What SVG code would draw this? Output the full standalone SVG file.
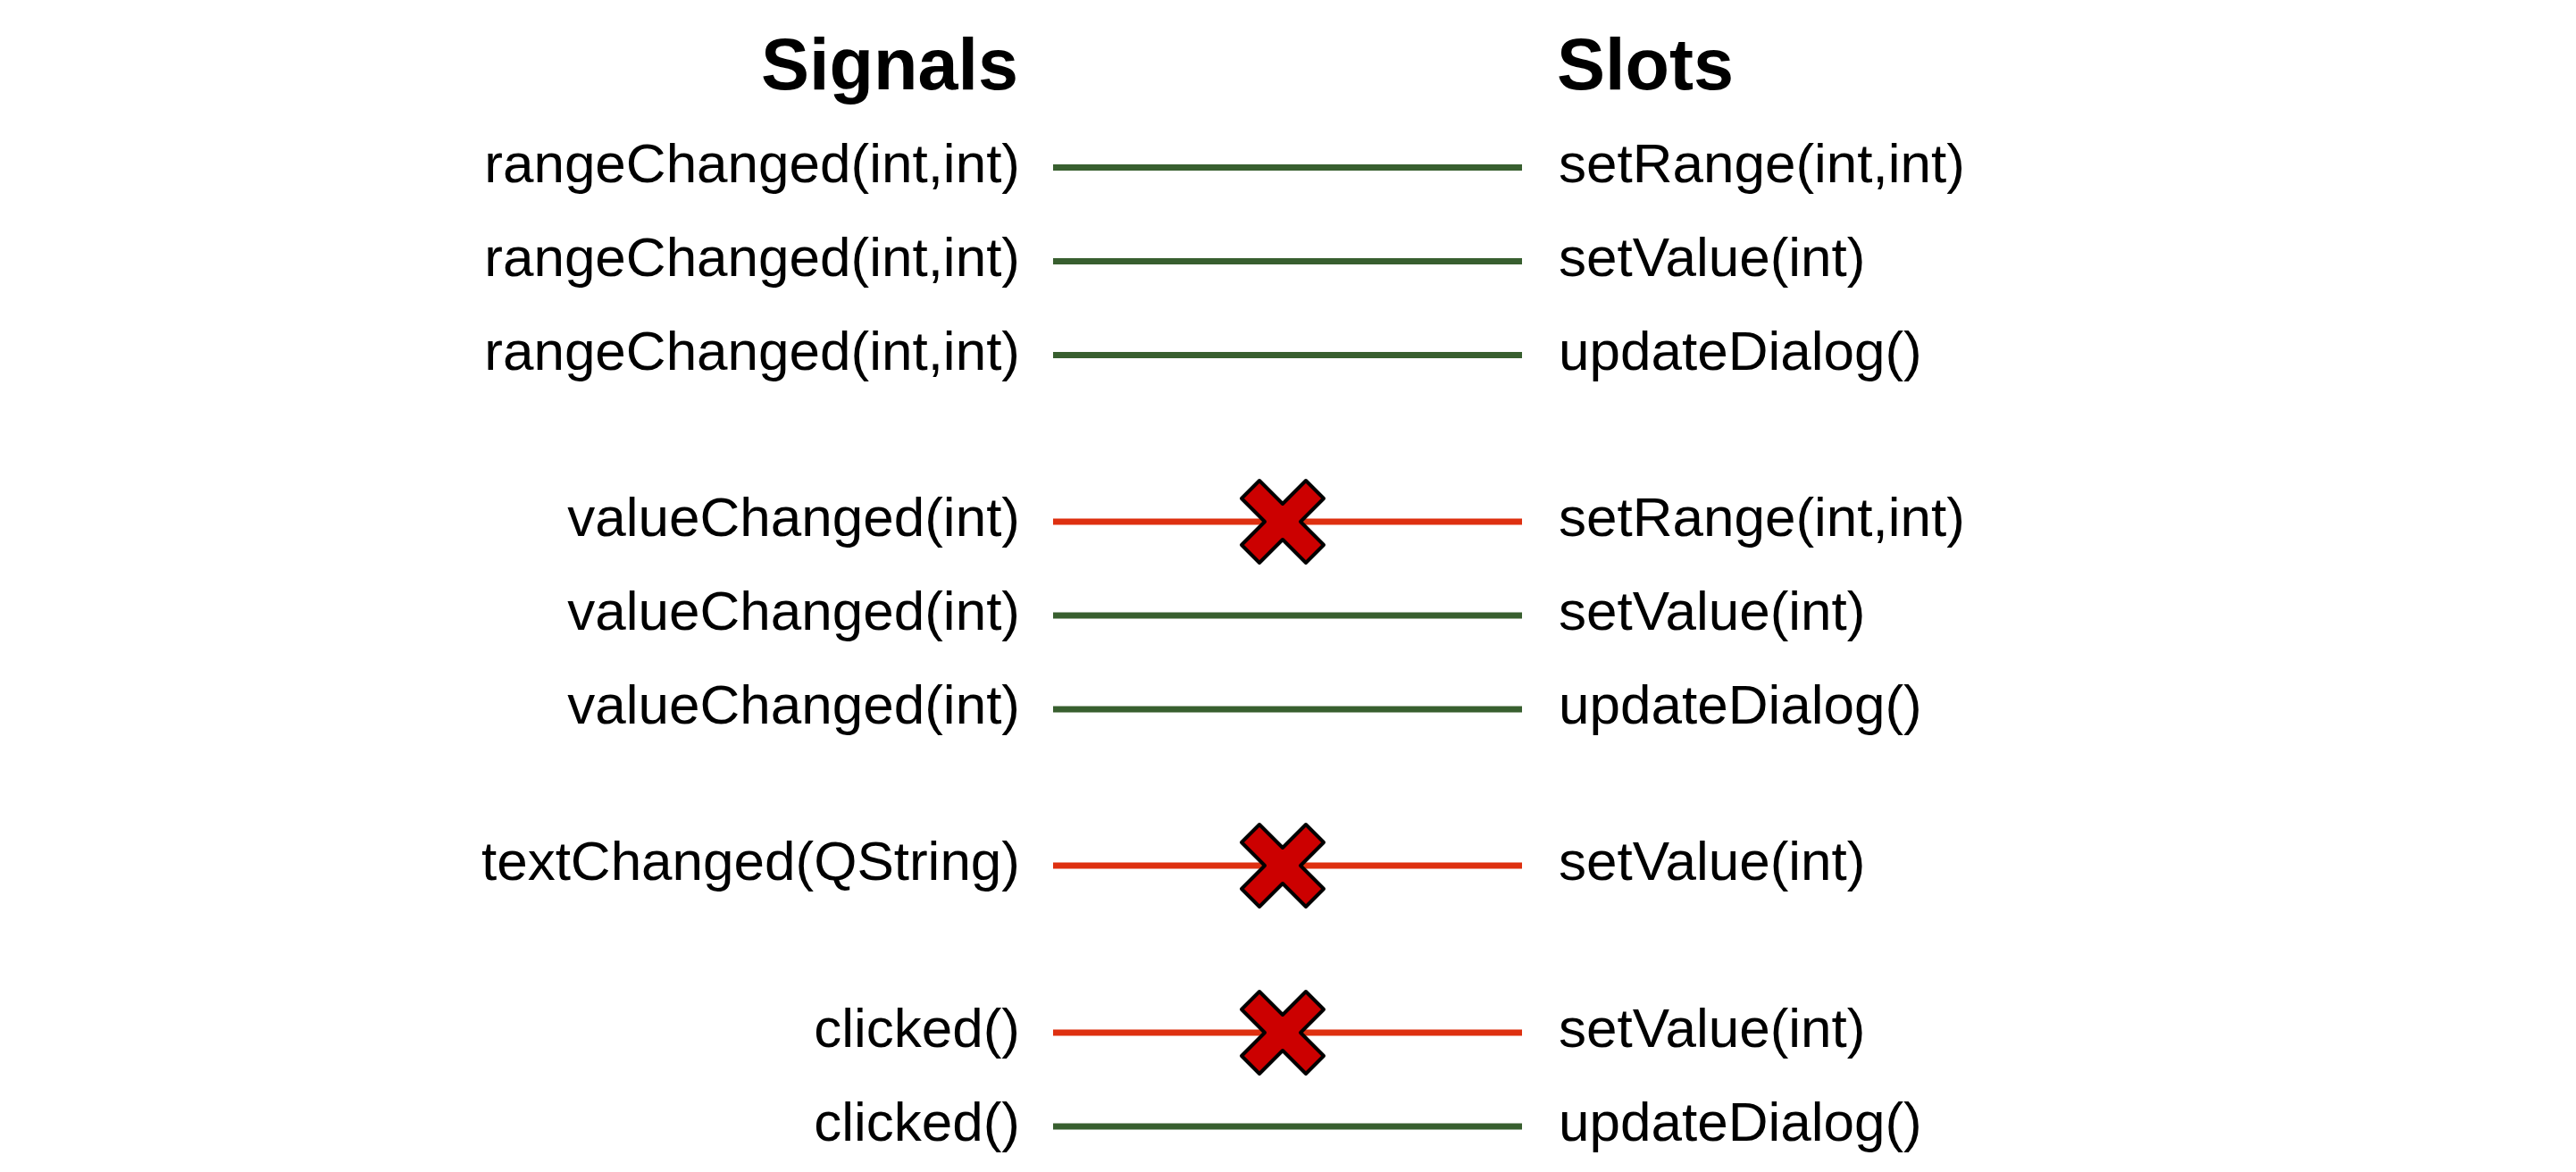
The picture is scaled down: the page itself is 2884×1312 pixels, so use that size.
<svg xmlns="http://www.w3.org/2000/svg" width="2884" height="1312" viewBox="0 0 2884 1312">
<style>
.hdr{font-family:"Liberation Sans",Arial,sans-serif;font-weight:bold;font-size:81px;fill:#000}
.sig{font-family:"Liberation Sans",Arial,sans-serif;font-size:62px;fill:#000;text-anchor:end}
.slot{font-family:"Liberation Sans",Arial,sans-serif;font-size:62px;fill:#000}
.ok{stroke:#385f2f;stroke-width:7;fill:none}
.bad{stroke:#de3010;stroke-width:7;fill:none}
.x{fill:#cc0000;stroke:#000;stroke-width:4;stroke-linejoin:round}
</style>
<defs>
<polygon id="cross" class="x" points="-46,-26 -26,-46 0,-20 26,-46 46,-26 20,0 46,26 26,46 0,20 -26,46 -46,26 -20,0"/>
</defs>
<rect width="2884" height="1312" fill="#fff"/>
<g id="headers">
<text class="hdr" x="1140" y="100" text-anchor="end">Signals</text>
<text class="hdr" x="1743" y="100">Slots</text>
</g>
<g id="connectors">
<line class="ok" x1="1179" y1="187.5" x2="1704" y2="187.5"/>
<line class="ok" x1="1179" y1="292.5" x2="1704" y2="292.5"/>
<line class="ok" x1="1179" y1="397.5" x2="1704" y2="397.5"/>
<line class="bad" x1="1179" y1="584" x2="1704" y2="584"/>
<line class="ok" x1="1179" y1="689" x2="1704" y2="689"/>
<line class="ok" x1="1179" y1="794" x2="1704" y2="794"/>
<line class="bad" x1="1179" y1="969" x2="1704" y2="969"/>
<line class="bad" x1="1179" y1="1156" x2="1704" y2="1156"/>
<line class="ok" x1="1179" y1="1261" x2="1704" y2="1261"/>
<use href="#cross" x="1436" y="584"/>
<use href="#cross" x="1436" y="969"/>
<use href="#cross" x="1436" y="1156"/>
</g>
<g id="signals">
<text class="sig" x="1142" y="204">rangeChanged(int,int)</text>
<text class="sig" x="1142" y="309">rangeChanged(int,int)</text>
<text class="sig" x="1142" y="414">rangeChanged(int,int)</text>
<text class="sig" x="1142" y="600">valueChanged(int)</text>
<text class="sig" x="1142" y="705">valueChanged(int)</text>
<text class="sig" x="1142" y="810">valueChanged(int)</text>
<text class="sig" x="1142" y="985">textChanged(QString)</text>
<text class="sig" x="1142" y="1172">clicked()</text>
<text class="sig" x="1142" y="1277">clicked()</text>
</g>
<g id="slots">
<text class="slot" x="1745" y="204">setRange(int,int)</text>
<text class="slot" x="1745" y="309">setValue(int)</text>
<text class="slot" x="1745" y="414">updateDialog()</text>
<text class="slot" x="1745" y="600">setRange(int,int)</text>
<text class="slot" x="1745" y="705">setValue(int)</text>
<text class="slot" x="1745" y="810">updateDialog()</text>
<text class="slot" x="1745" y="985">setValue(int)</text>
<text class="slot" x="1745" y="1172">setValue(int)</text>
<text class="slot" x="1745" y="1277">updateDialog()</text>
</g>
</svg>
